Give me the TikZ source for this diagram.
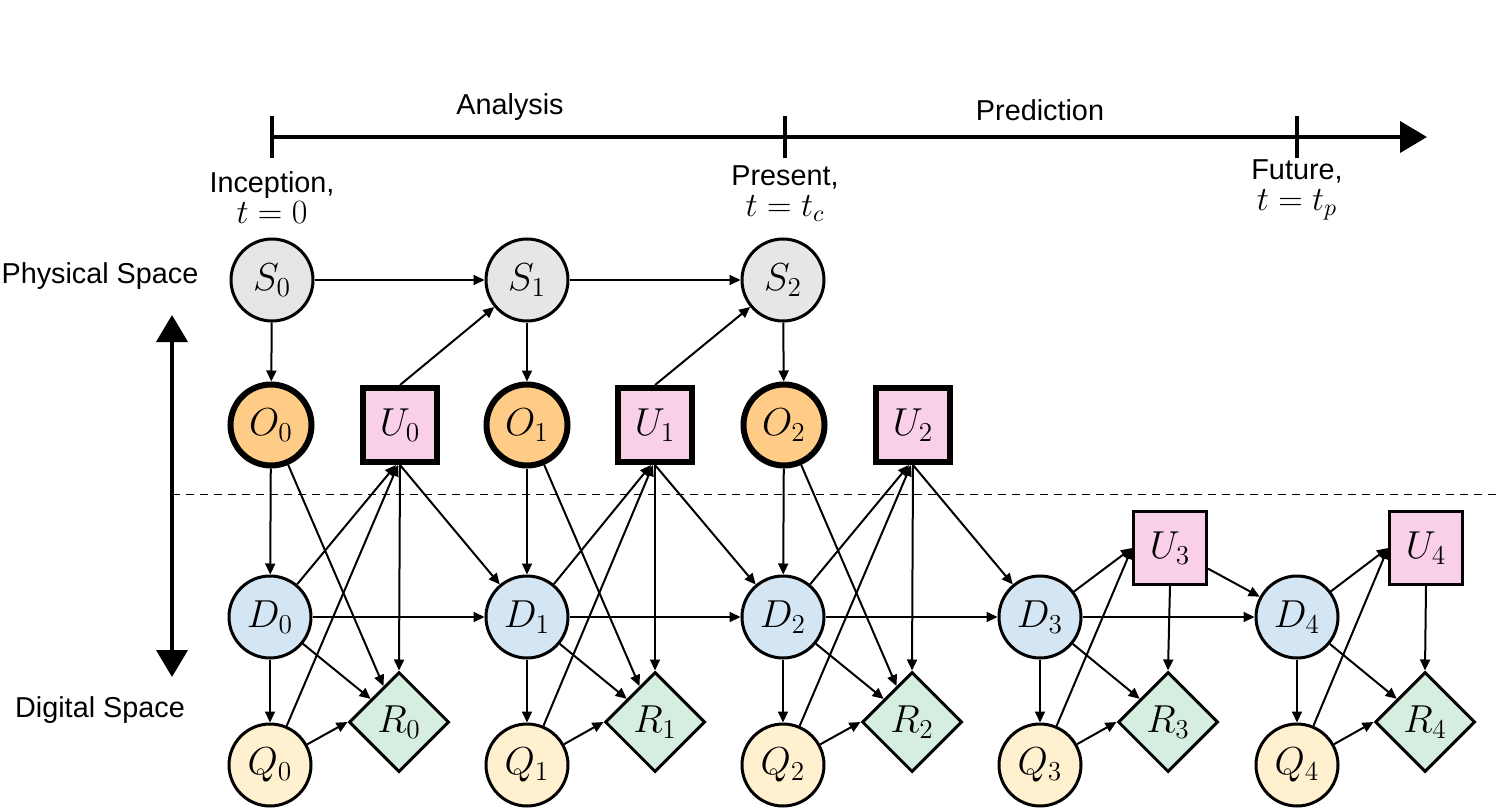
\RequirePackage{fix-cm}
\documentclass[tikz,border=0pt]{standalone}
\usepackage{amsmath}
\usepackage{fontspec}
\setsansfont{Liberation Sans}
\usepackage{xcolor}
\usetikzlibrary{arrows.meta, shapes.geometric, positioning}

\definecolor{physgray}{HTML}{E6E6E6}
\definecolor{obsorange}{HTML}{FFCC88}
\definecolor{ctrlpink}{HTML}{FAD0E8}
\definecolor{twinblue}{HTML}{D4E6F3}
\definecolor{qoicream}{HTML}{FFF0D0}
\definecolor{rewgreen}{HTML}{D5EEE0}
\newcommand{\tmath}[1]{{\fontsize{17}{16}\selectfont$#1$}}

\begin{document}
\begin{tikzpicture}[x=0.5pt, y=-0.5pt,
    every node/.style={font=\sffamily\fontsize{14.4}{15.5}\selectfont},
    state/.style={circle, draw, line width=1.5pt, minimum size=41pt, inner sep=0pt, font=\fontsize{19.5}{22}\selectfont},
    obs/.style={state, line width=3pt, minimum size=40.5pt, fill=obsorange},
    ctrl/.style={rectangle, draw, line width=1.5pt, minimum size=36.5pt, inner sep=0pt, fill=ctrlpink, font=\fontsize{19.5}{22}\selectfont},
    ctrlthick/.style={ctrl, line width=3pt, minimum size=37pt},
    reward/.style={diamond, aspect=1, draw, line width=1.5pt, minimum size=50pt, inner sep=0pt, fill=rewgreen, font=\fontsize{19.5}{22}\selectfont},
    link/.style={-{Triangle[length=5.5pt,width=5pt]}, line width=1pt},
    bigtip/.tip={Triangle[length=13.5pt,width=15.5pt]}]
\useasboundingbox (0,0) rectangle (1500,808);

% time line
\coordinate (inc) at (272,137);
\coordinate (pres) at (785,137);
\coordinate (fut) at (1297,137);
\coordinate (tend) at (1427,137);
\draw[line width=2pt, -bigtip] (inc) -- (tend);
\draw[line width=2pt] (inc) ++(0,-21) -- ++(0,42)
    (pres) ++(0,-21) -- ++(0,42)
    (fut) ++(0,-21) -- ++(0,42);
\node (analysis) at (510,107) {Analysis};
\node (prediction) at (1040,110) {Prediction};
\node[align=center] (inclab) at (272,198) {Inception,\\\tmath{t=0}};
\node[align=center] (preslab) at (785,194) {Present,\\\tmath{t=t_c}};
\node[align=center] (futlab) at (1297,190) {Future,\\\tmath{t=t_p}};

% spaces
\node (physical) at (100,276) {Physical Space};
\node (digital) at (100,710) {Digital Space};
\coordinate (sptop) at (172,315);
\coordinate (spbot) at (172,677);
\draw[line width=2pt, bigtip-bigtip] (sptop) -- (spbot);
\coordinate (cutl) at (172,494);
\coordinate (cutr) at (1500,494);
\draw[line width=0.5pt, dash pattern=on 4pt off 3pt] (cutl) -- (cutr);

% physical states
\node[state, fill=physgray] (S0) at (272,280) {$S_0$};
\node[state, fill=physgray] (S1) at (527,280) {$S_1$};
\node[state, fill=physgray] (S2) at (783,280) {$S_2$};

% observations and controls
\node[obs] (O0) at (271,425) {$O_0$};
\node[ctrlthick] (U0) at (400,425) {$U_0$};
\node[obs] (O1) at (527,425) {$O_1$};
\node[ctrlthick] (U1) at (655,425) {$U_1$};
\node[obs] (O2) at (784,425) {$O_2$};
\node[ctrlthick] (U2) at (913,425) {$U_2$};
\node[ctrl] (U3) at (1170,548) {$U_3$};
\node[ctrl] (U4) at (1426,548) {$U_4$};

% digital states
\node[state, fill=twinblue] (D0) at (270,617) {$D_0$};
\node[state, fill=twinblue] (D1) at (527,617) {$D_1$};
\node[state, fill=twinblue] (D2) at (783,617) {$D_2$};
\node[state, fill=twinblue] (D3) at (1040,617) {$D_3$};
\node[state, fill=twinblue] (D4) at (1297,617) {$D_4$};

% quantities of interest
\node[state, fill=qoicream] (Q0) at (270,765) {$Q_0$};
\node[state, fill=qoicream] (Q1) at (527,765) {$Q_1$};
\node[state, fill=qoicream] (Q2) at (783,765) {$Q_2$};
\node[state, fill=qoicream] (Q3) at (1040,765) {$Q_3$};
\node[state, fill=qoicream] (Q4) at (1297,765) {$Q_4$};

% rewards
\node[reward] (R0) at (399,722) {$R_0$};
\node[reward] (R1) at (655,722) {$R_1$};
\node[reward] (R2) at (912,722) {$R_2$};
\node[reward] (R3) at (1168,722) {$R_3$};
\node[reward] (R4) at (1425,722) {$R_4$};

\draw[link] (S0) -- (S1);
\draw[link] (S1) -- (S2);
\draw[link] (S0) -- (O0);
\draw[link] (S1) -- (O1);
\draw[link] (S2) -- (O2);
\draw[link] (U0.north) -- (S1);
\draw[link] (U1.north) -- (S2);
\draw[link] (O0) -- (D0);
\draw[link] (O1) -- (D1);
\draw[link] (O2) -- (D2);
\draw[link] (O0) -- (R0);
\draw[link] (O1) -- (R1);
\draw[link] (O2) -- (R2);
\draw[link] (U0.south) -- (D1);
\draw[link] (U1.south) -- (D2);
\draw[link] (U2.south) -- (D3);
\draw[link] (U0.south) -- (R0.north);
\draw[link] (U1.south) -- (R1.north);
\draw[link] (U2.south) -- (R2.north);
\draw[link] (U3.south) -- (R3.north);
\draw[link] (U4.south) -- (R4.north);
\draw[link] (D0) -- ([xshift=-2pt]U0.south);
\draw[link] (D1) -- ([xshift=-2pt]U1.south);
\draw[link] (D2) -- ([xshift=-2pt]U2.south);
\draw[link] (D3) -- (U3.west);
\draw[link] (D4) -- (U4.west);
\draw[link] (Q0) -- ([xshift=-1pt]U0.south);
\draw[link] (Q1) -- ([xshift=-1pt]U1.south);
\draw[link] (Q2) -- ([xshift=-1pt]U2.south);
\draw[link] (Q3) -- (U3.west);
\draw[link] (Q4) -- (U4.west);
\draw[link] (U3) -- (D4);
\draw[link] (D0) -- (D1);
\draw[link] (D1) -- (D2);
\draw[link] (D2) -- (D3);
\draw[link] (D3) -- (D4);
\draw[link] (D0) -- (Q0);
\draw[link] (D1) -- (Q1);
\draw[link] (D2) -- (Q2);
\draw[link] (D3) -- (Q3);
\draw[link] (D4) -- (Q4);
\draw[link] (D0) -- (R0);
\draw[link] (D1) -- (R1);
\draw[link] (D2) -- (R2);
\draw[link] (D3) -- (R3);
\draw[link] (D4) -- (R4);
\draw[link] (Q0) -- (R0.west);
\draw[link] (Q1) -- (R1.west);
\draw[link] (Q2) -- (R2.west);
\draw[link] (Q3) -- (R3.west);
\draw[link] (Q4) -- (R4.west);

\end{tikzpicture}
\end{document}
